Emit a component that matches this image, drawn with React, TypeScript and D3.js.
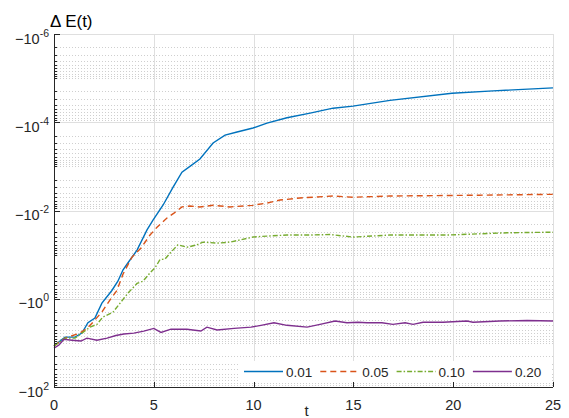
import React, { useEffect, useRef } from "react";
import * as d3 from "d3";

// time samples and energy error for each eps value
const t001 = [0, 0.55, 1.05, 1.4, 1.7, 2.05, 2.4, 2.9, 3.2, 3.46, 3.7, 4.16, 4.66, 4.96, 5.46, 5.96, 6.41, 6.81, 7.31, 7.97, 8.57, 9.17, 9.97, 10.67, 11.67, 12.83, 13.98, 14.98, 16.83, 19.94, 22, 25];
const dE001 = [-11.7, -7.4, -7.4, -6.0, -3.5, -2.75, -1.26, -0.65, -0.4, -0.22, -0.155, -0.079, -0.0275, -0.0166, -0.0076, -0.003, -0.00135, -0.001, -6.8e-4, -2.95e-4, -1.95e-4, -1.66e-4, -1.35e-4, -1.05e-4, -7.9e-5, -6.2e-5, -4.8e-5, -4.3e-5, -3.2e-5, -2.2e-5, -1.95e-5, -1.66e-5];

const t005 = [0, 0.55, 1.3, 1.65, 1.95, 2.4, 2.8, 3.15, 3.46, 3.9, 4.36, 4.81, 5.16, 5.66, 6.01, 6.41, 6.81, 7.31, 7.97, 8.82, 9.97, 10.67, 11.32, 12.32, 13.98, 14.98, 16.83, 21.3, 25];
const dE005 = [-11.7, -7.8, -6.0, -4.7, -3.4, -2.0, -1.07, -0.65, -0.275, -0.115, -0.071, -0.036, -0.024, -0.0148, -0.0115, -0.0083, -0.0079, -0.0083, -0.0076, -0.0083, -0.0076, -0.0068, -0.0058, -0.0052, -0.0047, -0.005, -0.0047, -0.0045, -0.0043];

const t010 = [0, 0.55, 1.05, 1.45, 1.8, 2.15, 2.45, 2.96, 3.31, 3.71, 4.16, 4.46, 4.81, 5.06, 5.31, 5.56, 5.81, 6.21, 6.66, 7.16, 7.46, 8.17, 8.82, 9.97, 10.67, 11.67, 12.83, 13.83, 14.98, 16.83, 19.69, 22.7, 25];
const dE010 = [-11.7, -7.8, -7.8, -5.8, -4.4, -3.8, -2.6, -2.0, -1.26, -0.74, -0.45, -0.4, -0.26, -0.2, -0.13, -0.126, -0.093, -0.06, -0.068, -0.06, -0.052, -0.055, -0.052, -0.04, -0.038, -0.036, -0.036, -0.035, -0.04, -0.036, -0.036, -0.032, -0.031];

const t020 = [0, 0.25, 0.5, 0.9, 1.35, 1.65, 2.15, 2.66, 3.1, 3.5, 4.0, 4.5, 5.0, 5.36, 5.86, 6.66, 7.36, 7.66, 8.17, 9.02, 9.87, 10.37, 11.02, 11.67, 12.68, 13.33, 14.08, 14.68, 15.23, 15.68, 16.43, 16.98, 17.59, 17.99, 18.49, 19.49, 20.69, 20.99, 22.34, 23.7, 25];
const dE020 = [-13.2, -11.2, -8.3, -8.7, -9.1, -7.8, -8.7, -7.8, -6.8, -6.3, -6.0, -5.4, -4.7, -5.8, -4.9, -4.9, -5.4, -4.4, -5.1, -4.7, -4.4, -4.0, -3.5, -4.0, -4.4, -3.8, -3.2, -3.5, -3.4, -3.5, -3.5, -3.8, -3.5, -3.8, -3.4, -3.4, -3.2, -3.4, -3.2, -3.1, -3.2];

const legendLabels = ["0.01", "0.05", "0.10", "0.20"];
const xTicks = [0, 5, 10, 15, 20, 25];
const yTickExps = [-6, -4, -2, 0, 2];

const W = 569, H = 418;
const margin = { top: 34, right: 16, bottom: 31, left: 54 };

const App = () => {
    const ref = useRef<SVGSVGElement>(null);

    useEffect(() => {
        const svg = d3.select(ref.current);
        svg.selectAll("*").remove();
        const x0 = margin.left, x1 = W - margin.right;
        const y0 = margin.top, y1 = H - margin.bottom;

        const x = d3.scaleLinear().domain([0, 25]).range([x0, x1]);
        // magnitude of the (negative) error, small values at the top
        const y = d3.scaleLog().domain([1e2, 1e-6]).range([y1, y0]);

        const g = svg.append("g");

        // minor grid: every 1..9 x 10^k, dotted
        const minor: number[] = [];
        for (let k = -6; k < 2; k++) {
            for (let m = 1; m <= 9; m++) {
                const v = m * Math.pow(10, k);
                if (m === 1 && k % 2 === 0) continue;
                minor.push(v);
            }
        }
        g.append("g").selectAll("line").data(minor).enter().append("line")
            .attr("x1", x0).attr("x2", x1)
            .attr("y1", d => Math.round(y(d)) + 0.5).attr("y2", d => Math.round(y(d)) + 0.5)
            .attr("stroke", "#cfcfcf").attr("stroke-width", 1)
            .attr("stroke-dasharray", "1,2");

        // major grid
        g.append("g").selectAll("line").data(yTickExps).enter().append("line")
            .attr("x1", x0).attr("x2", x1)
            .attr("y1", d => Math.round(y(Math.pow(10, d))) + 0.5).attr("y2", d => Math.round(y(Math.pow(10, d))) + 0.5)
            .attr("stroke", "#dfdfdf").attr("stroke-width", 1);
        g.append("g").selectAll("line").data(xTicks).enter().append("line")
            .attr("x1", d => Math.round(x(d)) + 0.5).attr("x2", d => Math.round(x(d)) + 0.5)
            .attr("y1", y0).attr("y2", y1)
            .attr("stroke", "#dfdfdf").attr("stroke-width", 1);

        // series
        const series = [
            { t: t001, v: dE001, color: "#0072BD", dash: null },
            { t: t005, v: dE005, color: "#D95319", dash: "6,4" },
            { t: t010, v: dE010, color: "#77AC30", dash: "5,2,1.5,2" },
            { t: t020, v: dE020, color: "#7E2F8E", dash: null },
        ];
        const line = d3.line<[number, number]>()
            .x(d => x(d[0]))
            .y(d => y(-d[1]));
        series.forEach(s => {
            const pts = s.t.map((tt, i) => [tt, s.v[i]] as [number, number]);
            g.append("path")
                .attr("d", line(pts))
                .attr("fill", "none")
                .attr("stroke", s.color)
                .attr("stroke-width", 1.4)
                .attr("stroke-dasharray", s.dash);
        });

        // axes (ticks inward, MATLAB style)
        const axisColor = "#262626";
        g.append("line").attr("x1", x0 + 0.5).attr("x2", x0 + 0.5).attr("y1", y0).attr("y2", y1 + 0.5)
            .attr("stroke", axisColor);
        g.append("line").attr("x1", x0).attr("x2", x1).attr("y1", y1 + 0.5).attr("y2", y1 + 0.5)
            .attr("stroke", axisColor);
        g.append("g").selectAll("line").data(minor).enter().append("line")
            .attr("x1", x0).attr("x2", x0 + 3)
            .attr("y1", d => Math.round(y(d)) + 0.5).attr("y2", d => Math.round(y(d)) + 0.5)
            .attr("stroke", axisColor);
        g.append("g").selectAll("line").data(yTickExps).enter().append("line")
            .attr("x1", x0).attr("x2", x0 + 6)
            .attr("y1", d => Math.round(y(Math.pow(10, d))) + 0.5).attr("y2", d => Math.round(y(Math.pow(10, d))) + 0.5)
            .attr("stroke", axisColor);
        g.append("g").selectAll("line").data(xTicks).enter().append("line")
            .attr("x1", d => Math.round(x(d)) + 0.5).attr("x2", d => Math.round(x(d)) + 0.5)
            .attr("y1", y1).attr("y2", y1 - 5)
            .attr("stroke", axisColor);

        // tick labels
        const font = "'Liberation Sans', Arial, sans-serif";
        g.append("g").selectAll("text").data(xTicks).enter().append("text")
            .attr("x", d => x(d)).attr("y", y1 + 23)
            .attr("text-anchor", "middle")
            .attr("font-family", font).attr("font-size", 14.5).attr("fill", axisColor)
            .text(d => d);
        const yl = g.append("g").selectAll("text").data(yTickExps).enter().append("text")
            .attr("x", x0 - 5).attr("y", d => y(Math.pow(10, d)) + 9.5)
            .attr("text-anchor", "end")
            .attr("font-family", font).attr("font-size", 14.5).attr("fill", axisColor);
        yl.append("tspan").text("\u221210");
        yl.append("tspan").attr("dy", -7).attr("font-size", 10.5).text(d => d);

        // axis titles
        g.append("text").attr("x", (x0 + x1) / 2 + 3).attr("y", H - 2)
            .attr("text-anchor", "middle").attr("font-family", font).attr("font-size", 15).attr("fill", axisColor)
            .text("t");
        g.append("text").attr("x", 50).attr("y", 27)
            .attr("font-family", font).attr("font-size", 17).attr("fill", "#000")
            .text("\u0394 E(t)");

        // legend
        const lg = g.append("g");
        lg.append("rect").attr("x", 238).attr("y", 361).attr("width", 312).attr("height", 21)
            .attr("fill", "#fff");
        series.forEach((s, i) => {
            const lx = 244 + i * 76.3;
            lg.append("line").attr("x1", lx).attr("x2", lx + 39).attr("y1", 371.5).attr("y2", 371.5)
                .attr("stroke", s.color).attr("stroke-width", 1.4).attr("stroke-dasharray", s.dash);
            lg.append("text").attr("x", lx + 42).attr("y", 376.5)
                .attr("font-family", font).attr("font-size", 13.5).attr("fill", axisColor)
                .text(legendLabels[i]);
        });
    }, []);

    return (
        <div style={{ position: "absolute", left: 0, top: 0 }}>
            <svg ref={ref} width={W} height={H} style={{ display: "block", background: "#fff" }} />
        </div>
    );
};

export default App;
